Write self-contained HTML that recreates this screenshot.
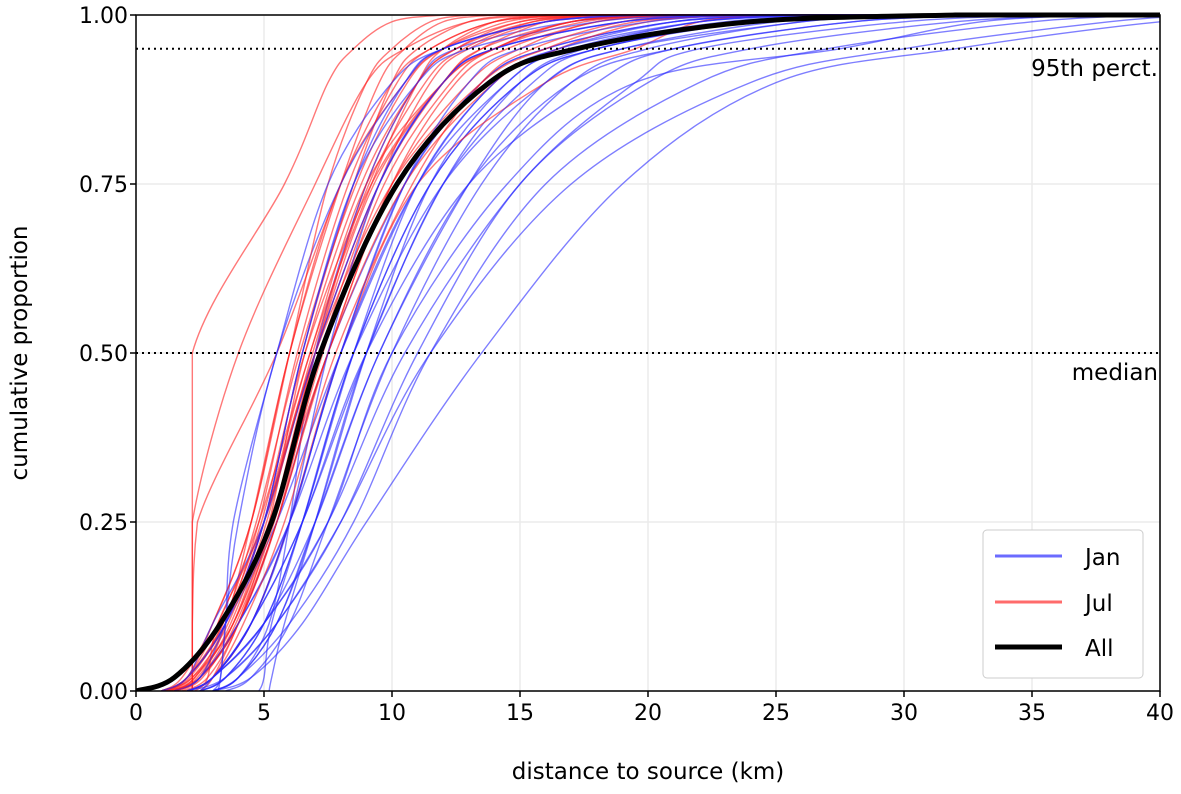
<!DOCTYPE html>
<html><head><meta charset="utf-8"><style>
html,body{margin:0;padding:0;background:#fff;}
svg text{font-family:"DejaVu Sans","Liberation Sans",sans-serif;fill:#000;}
</style></head><body>
<svg id="chart" width="1181" height="789" viewBox="0 0 1181 789" xmlns="http://www.w3.org/2000/svg">
<g id="grid"></g>
<g id="curves"></g>
<g id="refs"></g>
<g id="axes"></g>
<text x="648" y="779" font-size="23" text-anchor="middle">distance to source (km)</text>
<text transform="translate(27,353) rotate(-90)" font-size="23" text-anchor="middle">cumulative proportion</text>
<g>
<rect x="983" y="530" width="160" height="148" rx="4" fill="#fff" stroke="#ccc" stroke-width="1"/>
<line x1="995" y1="556" x2="1062" y2="556" stroke="#6b6bff" stroke-width="3"/>
<text x="1085" y="565" font-size="23">Jan</text>
<line x1="995" y1="602" x2="1062" y2="602" stroke="#ff6b6b" stroke-width="3"/>
<text x="1085" y="611" font-size="23">Jul</text>
<line x1="995" y1="647" x2="1062" y2="647" stroke="#000" stroke-width="5"/>
<text x="1085" y="656" font-size="23">All</text>
</g>
</svg>
<script>
const pLevels = [0, 0.02, 0.1, 0.25, 0.5, 0.75, 0.9, 0.95, 0.99, 1];
const xTicks = [0,5,10,15,20,25,30,35,40];
const yTicks = [0,0.25,0.5,0.75,1];
const yTickLabels = ["0.00","0.25","0.50","0.75","1.00"];
const refLevels = [0.95, 0.5];
const refLabels = ["95th perct.", "median"];
const allCurve = [0, 1.5, 3.3, 5.3, 7.2, 10.2, 13.8, 17.2, 24, 32];
const janCurves = [
 [1.5,2.5,4,5.5,7.5,10.5,13.5,16,21,26],
 [2.5,3.5,5,6.5,8.5,11.5,15,18,24,28],
 [3,4,5.2,6,7,9,11,12.5,17,21],
 [1,2,3.5,5,7,9.5,12,14,19,24],
 [2,3,5,7,9.5,13,17,21,28,34],
 [2.5,3.5,5.5,8,11.5,17,24,30,38,42],
 [3,4.5,6.5,9,13.5,19,25,32,40,45],
 [4.8,5,5.3,6.5,8.5,11.5,15,18,24,30],
 [5.2,5.3,5.8,7,9,12,15,17.5,22,27],
 [2,3,4.5,6,8,10.5,13.5,16,21,26],
 [1.5,2.5,4,6,8.5,12,16,19,26,30],
 [3,4,6,8.5,11.5,16,22,27,35,40],
 [2,3,4.5,6.5,9,13,18,21,28,34],
 [1,2,3.5,5.5,8,11,14,16.5,22,27],
 [3,3.3,3.5,4,5.5,8,10.5,12,16,20],
 [2,3,5,7.5,10.5,15,19.5,22,30,36],
 [3,4,5.5,7,9,11.5,14.5,17,22,26],
 [2.5,3,4.5,6,8,10.5,13,15,20,24],
 [1.5,2.5,4,6,8,11,14.5,17,23,28],
 [2,3,5,7.5,10,14.5,19.5,27.5,33,38],
 [3,4,5.5,7,9.5,13,16,19,25,30],
 [1,2,3,5,7,9.5,12,14,19,23],
 [2,3.5,5.5,8,11,15,20,24,32,38],
 [3.5,4.5,6,7.5,10,13.5,17,20,26,31],
 [1.5,2.5,3.5,5,6.5,8.5,11,13,18,22],
 [2,3,4.5,6,7.5,9.5,12,14,19,23],
 [3.2,3.3,3.5,3.8,5.5,7.5,10,12,16,20],
 [2.5,3.5,5,6.5,8.5,11,14,16.5,21,25],
 [1,2,3.5,5,6.5,8.5,10.5,12,16,19],
 [2,3,4.5,6.5,9,12,15.5,18,24,29]
];
const julCurves = [
 [1,2,3.5,5,6.5,8.5,10,11,13,15],
 [1,2.2,3.8,5.3,7,9,11,12.5,15,18],
 [1.2,2.5,4,5.5,7.2,9.5,11.5,13,16,20],
 [2.2,2.2,2.2,2.2,2.2,5.8,7.5,8.5,10,12],
 [2.2,2.2,2.2,2.2,4,7,9,10.5,13,16],
 [2.2,2.2,2.2,2.4,5.5,8,10,11.5,14,17],
 [1.5,2.5,3.5,4.5,6,8,9.5,10.5,12,14],
 [1,2,3.2,4.8,6.8,9,12,14,17,21],
 [1.5,2.5,3.8,5.2,7.5,10,13,15,18,22],
 [1,2,3.5,5,7,10,13.5,16,19.5,24],
 [2,3,4.5,6,8,11,16,19.5,22,25],
 [1.3,2.3,3.5,4.8,6.3,8.3,10.2,11.5,14,17],
 [2.5,3,4,5.5,7.5,10,12.5,14.5,18,21],
 [1,2,3,4.5,6,8,10.5,12,15,18],
 [1.5,2.5,4,5.5,7.5,10.5,14,16.5,20,24],
 [1.8,2.8,4,5.3,7,9.3,12,13.5,17,20],
 [1,1.8,3,4.5,6,7.5,9,10,11.5,13],
 [1.2,2.2,3.6,5,6.8,9.2,11,12,14,16],
 [2,3,4.2,5.8,7.8,10.8,13.5,15.5,19,22],
 [1.5,2.3,3.8,5.2,6.6,8.8,11,12.5,15.5,19],
 [2.3,2.8,3.2,5,7,9.5,12,13.5,16,18],
 [1,2,3.4,4.9,6.6,9.2,12,14,17.5,21],
 [1.4,2.4,3.7,5.1,6.9,9.1,11.3,12.8,15.5,18],
 [1.1,2.1,3.4,4.7,6.4,8.6,10.6,12,14.5,17],
 [1.6,2.6,3.9,5.4,7.3,9.7,12.3,14,17,20]
];

const X0=136,X1=1160,Y0=691,Y1=15;
const xs=v=>X0+(v/40)*(X1-X0);
const ys=p=>Y0-p*(Y0-Y1);
const NS="http://www.w3.org/2000/svg";
function mk(tag,attrs,parent){const e=document.createElementNS(NS,tag);for(const k in attrs)e.setAttribute(k,attrs[k]);parent.appendChild(e);return e;}

const grid=document.getElementById('grid');
xTicks.forEach(t=>{const l=mk('line',{x1:xs(t),x2:xs(t),y1:Y1,y2:Y0,stroke:'#ebebeb','stroke-width':1.5},grid);

});
yTicks.forEach(t=>{const l=mk('line',{x1:X0,x2:X1,y1:ys(t),y2:ys(t),stroke:'#ebebeb','stroke-width':1.5},grid);

});

function pathFor(q){
  const pts=q.map((v,i)=>[xs(Math.min(v,45)),ys(pLevels[i])]);
  let d=`M${pts[0][0]},${pts[0][1]}`;
  for(let i=0;i<pts.length-1;i++){
    const p0=pts[Math.max(i-1,0)],p1=pts[i],p2=pts[i+1],p3=pts[Math.min(i+2,pts.length-1)];
    let c1x=p1[0]+(p2[0]-p0[0])/6, c1y=p1[1]+(p2[1]-p0[1])/6;
    let c2x=p2[0]-(p3[0]-p1[0])/6, c2y=p2[1]-(p3[1]-p1[1])/6;
    c1x=Math.min(Math.max(c1x,p1[0]),p2[0]);c2x=Math.min(Math.max(c2x,p1[0]),p2[0]);
    d+=` C${c1x},${c1y} ${c2x},${c2y} ${p2[0]},${p2[1]}`;
  }
  d+=` L${X1+40},${ys(1)}`;
  return d;
}
const cg=document.getElementById('curves');
const clip=mk('clipPath',{id:'clipA'},document.getElementById('chart'));
mk('rect',{x:X0,y:Y1-3,width:X1-X0,height:Y0-Y1+3},clip);
cg.setAttribute('clip-path','url(#clipA)');
const n=Math.max(janCurves.length,julCurves.length);
for(let i=0;i<n;i++){
  if(janCurves[i]){const p=mk('path',{d:pathFor(janCurves[i]),fill:'none',stroke:'rgba(40,40,255,0.6)','stroke-width':1.4},cg);
  
  }
  if(julCurves[i]){const p=mk('path',{d:pathFor(julCurves[i]),fill:'none',stroke:'rgba(255,30,30,0.6)','stroke-width':1.4},cg);
  
  }
}
const ap=mk('path',{d:pathFor(allCurve),fill:'none',stroke:'#000','stroke-width':5},cg);



const refs=document.getElementById('refs');
refLevels.forEach((lv,i)=>{
  const l=mk('line',{x1:X0,x2:X1,y1:ys(lv),y2:ys(lv),stroke:'#000','stroke-width':2,'stroke-dasharray':'2,4'},refs);
  
  
  const t=mk('text',{x:X1-2,y:ys(lv)+27,'font-size':23,'text-anchor':'end'},refs);
  t.textContent=refLabels[i];
  
  
});

const ax=document.getElementById('axes');
const fr=mk('rect',{x:X0,y:Y1,width:X1-X0,height:Y0-Y1,fill:'none',stroke:'#000','stroke-width':1.5},ax);


xTicks.forEach(t=>{
  const l=mk('line',{x1:xs(t),x2:xs(t),y1:Y0,y2:Y0+6,stroke:'#000','stroke-width':1.5},ax);
  
  
  const tx=mk('text',{x:xs(t),y:Y0+29,'font-size':22,'text-anchor':'middle'},ax);
  tx.textContent=t;
  
  
});
yTicks.forEach((t,i)=>{
  const l=mk('line',{x1:X0-6,x2:X0,y1:ys(t),y2:ys(t),stroke:'#000','stroke-width':1.5},ax);
  
  
  const tx=mk('text',{x:X0-8,y:ys(t)+8,'font-size':22,'text-anchor':'end'},ax);
  tx.textContent=yTickLabels[i];
  
  
});
</script>
</body></html>
